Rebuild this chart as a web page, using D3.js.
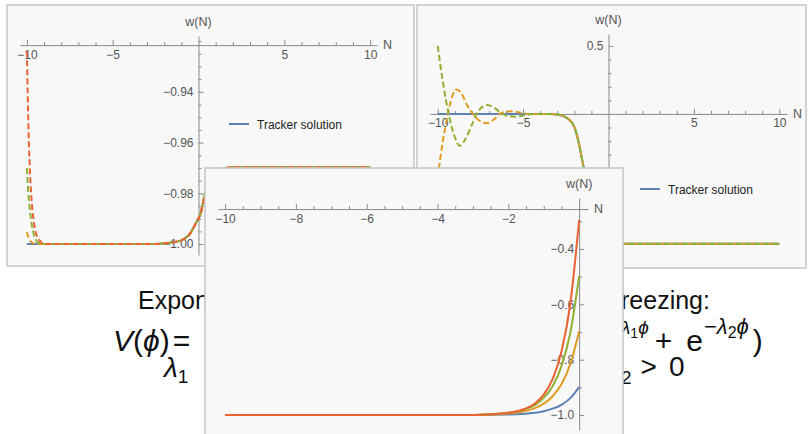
<!DOCTYPE html>
<html><head><meta charset="utf-8">
<script src="https://cdn.jsdelivr.net/npm/d3@7"></script>
<style>
body{margin:0;background:#fff;}
svg text{font-family:"Liberation Sans",Arial,sans-serif;}
</style>
</head><body>
<svg id="c" width="811" height="434"></svg>
<script>
// ---------------- DATA ----------------
// Panel 1 (top-left)
const p1TailN = [-9, -2.5, -2, -1.5, -1, -0.5, -0.1, 0.1, 0.4, 0.7, 1.0, 1.5, 2, 10];
const p1TailW = [-1, -1, -0.9997, -0.9993, -0.9985, -0.996, -0.991, -0.9885, -0.9795, -0.974, -0.9715, -0.9702, -0.9697, -0.9697];
const p1HeadN = [-10, -9.9, -9.8, -9.7, -9.6, -9.5, -9.4, -9.2];
const p1RedHeadW = [-0.924, -0.956, -0.974, -0.985, -0.991, -0.995, -0.997, -0.999];
const p1GreenHeadW = [-0.970, -0.981, -0.988, -0.993, -0.996, -0.998, -0.999, -0.9997];
const p1OrangeHeadW = [-0.9952, -0.9975, -0.9988, -0.9994, -0.9997, -0.9999, -1, -1];
const p1XMajor = [-10, -5, 5, 10];
const p1YMajor = [-0.94, -0.96, -0.98, -1.00];

// Panel 2 (top-right)
const p2DropN = [-3.5, -3, -2.6, -2.28, -2, -1.8, -1.6, -1.45, -1.2, -1, -0.7, -0.3, 0, 10];
const p2DropW = [0, -0.004, -0.018, -0.045, -0.095, -0.18, -0.3, -0.4, -0.62, -0.77, -0.9, -0.95, -0.955, -0.955];
const p2GreenHeadN = [-10, -9.7, -9.36, -9.0, -8.71, -8.4, -8.0, -7.72, -7.4, -7.07, -6.7, -6.2, -5.8, -5.38, -4.9, -4.3];
const p2GreenHeadW = [0.5, 0.24, 0, -0.17, -0.235, -0.19, -0.08, 0, 0.05, 0.066, 0.045, 0, -0.017, -0.02, -0.008, 0];
const p2OrangeHeadN = [-10, -9.7, -9.4, -9.15, -8.9, -8.6, -8.3, -7.95, -7.55, -7.15, -6.75, -6.37, -6.0, -5.67, -5.2, -4.6];
const p2OrangeHeadW = [-0.47, -0.2, 0, 0.13, 0.18, 0.15, 0.07, 0, -0.05, -0.068, -0.045, 0, 0.016, 0.02, 0.01, 0];
const p2XMajor = [-10, -5, 5, 10];
const p2YMajor = [0.5];

// Panel 3 (front)
const p3N = [-10, -3, -2.5, -2, -1.75, -1.5, -1.25, -1, -0.75, -0.5, -0.25, 0];
const p3Blue = [-1, -1, -0.9993, -0.998, -0.997, -0.995, -0.992, -0.986, -0.977, -0.963, -0.939, -0.899];
const p3Orange = [-1, -0.9995, -0.998, -0.994, -0.991, -0.985, -0.975, -0.959, -0.932, -0.889, -0.816, -0.697];
const p3Green = [-1, -0.9995, -0.997, -0.992, -0.987, -0.978, -0.964, -0.938, -0.896, -0.824, -0.703, -0.498];
const p3Red = [-1, -0.9995, -0.9975, -0.992, -0.986, -0.976, -0.958, -0.926, -0.870, -0.771, -0.598, -0.295];
const p3XMajor = [-10, -8, -6, -4, -2];
const p3YMajor = [-0.4, -0.6, -0.8, -1.0];

const legendLabel = "Tracker solution";

// ---------------- STYLE ----------------
const C = {blue:"#5E81B5", orange:"#E19C24", green:"#8FB032", red:"#EB6235"};
const svg = d3.select("#c");
const zip = (n, w) => n.map((v, i) => [v, w[i]]);
const range = (a, b, s) => d3.range(Math.round((b - a) / s) + 1).map(i => +(a + i * s).toFixed(4));

// ---------------- SLIDE TEXT (behind) ----------------
const txt = svg.append("g").attr("fill", "#111").style("font-size", "25px");
txt.append("text").attr("x", 138).attr("y", 309).text("Expon");
txt.append("text").attr("x", 621).attr("y", 309).text("reezing:");
const l2 = txt.append("text").attr("x", 113).attr("y", 351).style("font-size", "30px");
l2.append("tspan").attr("font-style", "italic").text("V");
l2.append("tspan").text("(");
l2.append("tspan").attr("font-style", "italic").text("ϕ");
l2.append("tspan").text(")");
l2.append("tspan").attr("dx", 3).text("=");
const r2 = txt.append("text").attr("x", 621).attr("y", 351).style("font-size", "30px");
r2.append("tspan").attr("dy", -17).style("font-size", "19px").attr("font-style", "italic").text("λ");
r2.append("tspan").attr("dy", 4).style("font-size", "14px").text("1");
r2.append("tspan").attr("dy", -4).style("font-size", "19px").attr("font-style", "italic").text("ϕ");
r2.append("tspan").attr("dy", 17).attr("dx", 6).text("+");
r2.append("tspan").attr("dx", 14).text("e");
r2.append("tspan").attr("dy", -17).attr("dx", 1).style("font-size", "22px").text("−");
r2.append("tspan").style("font-size", "22px").attr("font-style", "italic").text("λ");
r2.append("tspan").attr("dy", 4).style("font-size", "16px").text("2");
r2.append("tspan").attr("dy", -4).style("font-size", "22px").attr("font-style", "italic").text("ϕ");
r2.append("tspan").attr("dy", 17).attr("dx", 4).text(")");
const l3 = txt.append("text").attr("x", 164).attr("y", 377).style("font-size", "28px");
l3.append("tspan").attr("font-style", "italic").text("λ");
l3.append("tspan").attr("dy", 6).style("font-size", "19px").text("1");
const r3 = txt.append("text").attr("x", 621).attr("y", 376).style("font-size", "28px");
r3.append("tspan").attr("dy", 8).style("font-size", "19px").text("2");
r3.append("tspan").attr("dy", -8).attr("dx", 9).text(">");
r3.append("tspan").attr("dx", 12).text("0");

// ---------------- PANEL FACTORY ----------------
let clipId = 0;
function panel(cfg) {
  const g = svg.append("g");
  g.append("rect").attr("x", cfg.frame[0]).attr("y", cfg.frame[1])
    .attr("width", cfg.frame[2]).attr("height", cfg.frame[3])
    .attr("fill", "#f8f8f8").attr("stroke", "#c9c9c9").attr("stroke-width", 1.6);
  const id = "clip" + (clipId++);
  g.append("clipPath").attr("id", id).append("rect")
    .attr("x", cfg.frame[0] + 1).attr("y", cfg.frame[1] + 1)
    .attr("width", cfg.frame[2] - 2).attr("height", cfg.frame[3] - 2);
  const inner = g.append("g").attr("clip-path", `url(#${id})`);
  const x = d3.scaleLinear().domain(cfg.xDom).range(cfg.xRange);
  const y = d3.scaleLinear().domain(cfg.yDom).range(cfg.yRange);
  const xAxisY = y(cfg.xCross), yAxisX = x(0);

  const styleAxis = (sel) => {
    sel.selectAll("path.domain").attr("stroke", "#8a8a8a").attr("stroke-width", 1);
    sel.selectAll(".tick line").attr("stroke", "#8a8a8a");
    sel.selectAll(".tick text").attr("fill", "#555").style("font-size", "12px")
       .style("font-family", '"Liberation Sans",Arial,sans-serif');
  };
  // x axis
  const xMinor = cfg.xMinor.filter(v => !cfg.xMajor.includes(v) && v !== 0);
  inner.append("g").attr("transform", `translate(0,${xAxisY})`)
    .call(d3.axisBottom(x).tickValues(xMinor).tickSize(-3).tickSizeOuter(0).tickFormat(""))
    .call(styleAxis);
  inner.append("g").attr("transform", `translate(0,${xAxisY})`)
    .call(d3.axisBottom(x).tickValues(cfg.xMajor).tickSize(-5).tickSizeOuter(0).tickPadding(5).tickFormat(d3.format("d")))
    .call(styleAxis).call(s => s.select("path.domain").remove());
  // y axis
  const yMinor = cfg.yMinor.filter(v => !cfg.yMajor.some(m => Math.abs(m - v) < 1e-9));
  inner.append("g").attr("transform", `translate(${yAxisX},0)`)
    .call(d3.axisLeft(y).tickValues(yMinor).tickSize(-3).tickSizeOuter(0).tickFormat(""))
    .call(styleAxis);
  inner.append("g").attr("transform", `translate(${yAxisX},0)`)
    .call(d3.axisLeft(y).tickValues(cfg.yMajor).tickSize(-5).tickSizeOuter(0).tickPadding(5).tickFormat(d3.format(cfg.yFmt)))
    .call(styleAxis).call(s => s.select("path.domain").remove());
  // axis labels
  inner.append("text").attr("x", yAxisX).attr("y", cfg.yRange[1] - 10).attr("text-anchor", "middle")
    .attr("fill", "#555").style("font-size", "12.5px").text("w(N)");
  inner.append("text").attr("x", cfg.xRange[1] + 6).attr("y", xAxisY + 4).attr("fill", "#555")
    .style("font-size", "12.5px").text("N");
  // series
  const line = d3.line().x(d => x(d[0])).y(d => y(d[1])).curve(d3.curveMonotoneX);
  cfg.series.forEach(s => {
    inner.append("path").attr("d", line(s.pts)).attr("fill", "none")
      .attr("stroke", s.color).attr("stroke-width", 2)
      .attr("stroke-dasharray", s.dash ? "6,3" : null);
  });
  if (cfg.legend) {
    const [lx, ly] = cfg.legend;
    inner.append("line").attr("x1", lx).attr("x2", lx + 20).attr("y1", ly).attr("y2", ly)
      .attr("stroke", C.blue).attr("stroke-width", 2);
    inner.append("text").attr("x", lx + 28).attr("y", ly + 4.5).attr("fill", "#222")
      .style("font-size", "12px").text(legendLabel);
  }
}

// Panel 1
panel({
  frame: [7, 5, 407, 261],
  xDom: [-10.4, 10.4], xRange: [20, 377],
  yDom: [-1.0043, -0.918], yRange: [255, 36],
  xCross: -0.9216, yFmt: ".2f",
  xMajor: p1XMajor, xMinor: range(-10, 10, 1),
  yMajor: p1YMajor, yMinor: range(-1.0, -0.92, 0.005),
  legend: [229, 124],
  series: [
    {pts: zip([-10].concat(p1TailN), [-1].concat(p1TailW)), color: C.blue},
    {pts: zip(p1HeadN.concat(p1TailN), p1OrangeHeadW.concat(p1TailW)), color: C.orange, dash: true},
    {pts: zip(p1HeadN.concat(p1TailN), p1GreenHeadW.concat(p1TailW)), color: C.green, dash: true},
    {pts: zip(p1HeadN.concat(p1TailN), p1RedHeadW.concat(p1TailW)), color: C.red, dash: true}
  ]
});

// Panel 2
panel({
  frame: [417, 5, 389, 263],
  xDom: [-10.45, 10.45], xRange: [430, 787],
  yDom: [-1.06, 0.588], yRange: [258, 34],
  xCross: 0, yFmt: ".1f",
  xMajor: p2XMajor, xMinor: range(-10, 10, 1),
  yMajor: p2YMajor, yMinor: range(-1.0, 0.5, 0.1),
  legend: [640, 189],
  series: [
    {pts: zip([-10].concat(p2DropN), [0].concat(p2DropW)), color: C.blue},
    {pts: zip(p2OrangeHeadN.concat(p2DropN), p2OrangeHeadW.concat(p2DropW)), color: C.orange, dash: true},
    {pts: zip(p2GreenHeadN.concat(p2DropN), p2GreenHeadW.concat(p2DropW)), color: C.green, dash: true}
  ]
});

// Panel 3
panel({
  frame: [205, 168, 418, 280],
  xDom: [-10.2, 0.25], xRange: [218, 588],
  yDom: [-1.054, -0.216], yRange: [430, 198],
  xCross: -0.256, yFmt: ".1f",
  xMajor: p3XMajor, xMinor: range(-10, 0, 0.5),
  yMajor: p3YMajor, yMinor: range(-1.0, -0.3, 0.1),
  legend: null,
  series: [
    {pts: zip(p3N, p3Blue), color: C.blue},
    {pts: zip(p3N, p3Orange), color: C.orange},
    {pts: zip(p3N, p3Green), color: C.green},
    {pts: zip(p3N, p3Red), color: C.red}
  ]
});
</script>
</body></html>
